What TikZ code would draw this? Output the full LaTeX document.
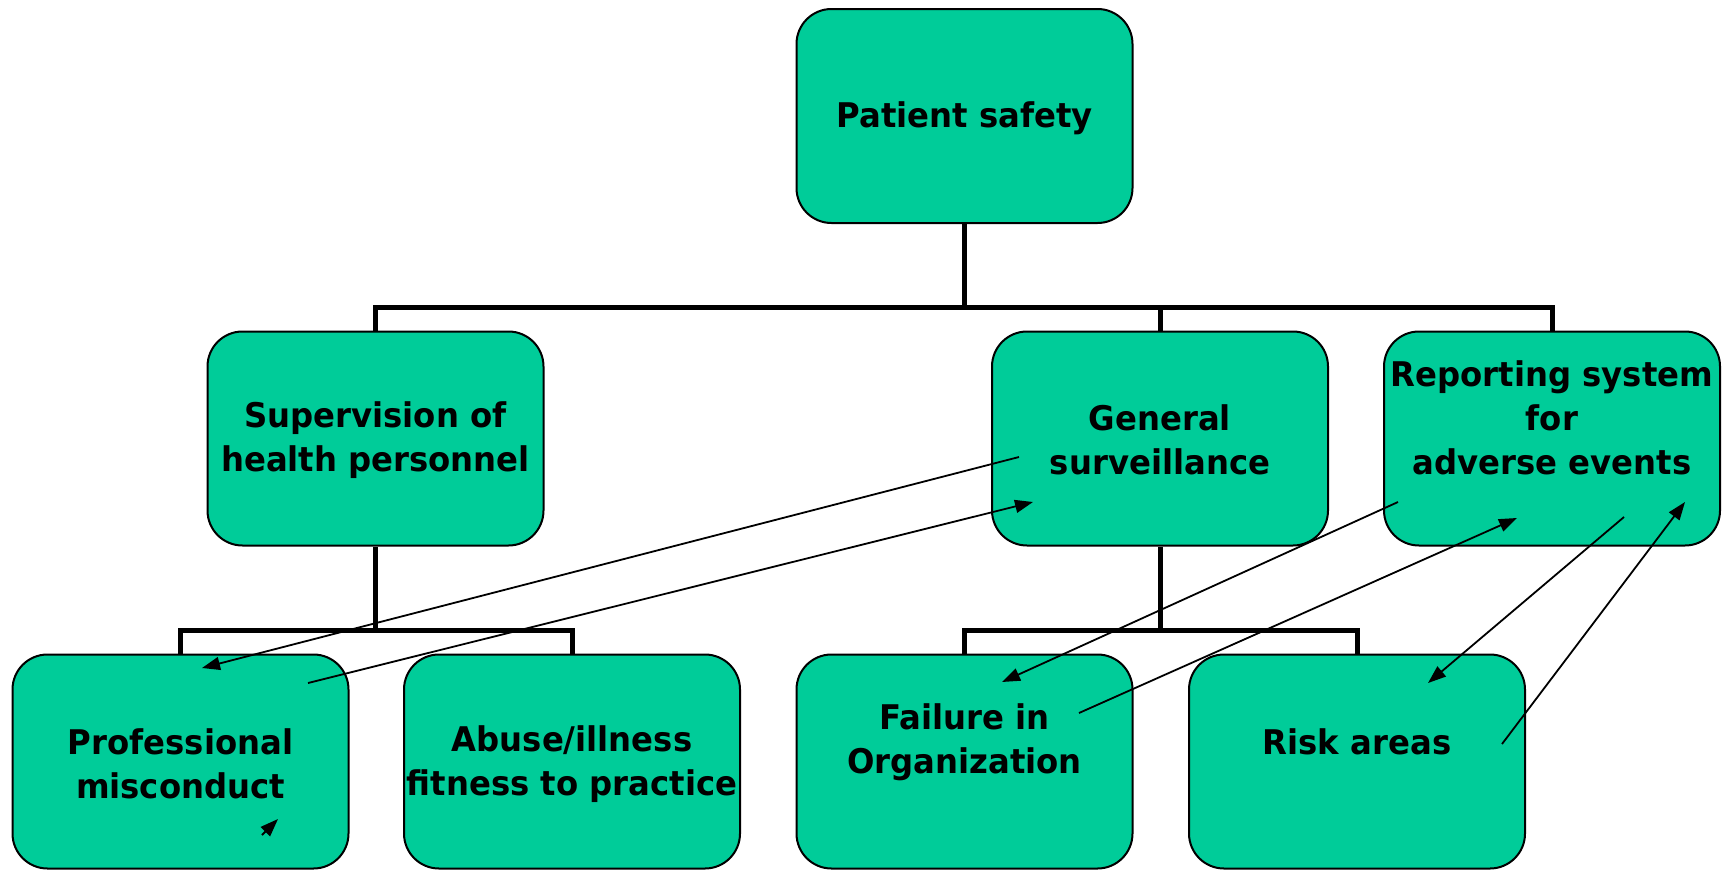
\documentclass[tikz,border=0pt]{standalone}
\usepackage{fontspec}
\newfontfamily\boxfont{DejaVu Sans}[FakeStretch=0.95]
\usetikzlibrary{arrows.meta}
\definecolor{boxgreen}{HTML}{00CC99}
\begin{document}
\begin{tikzpicture}[x=1pt,y=-1pt,
  box/.style={draw=black,line width=2pt,fill=boxgreen,rounded corners=35pt,
    minimum width=336pt,minimum height=214pt,inner sep=0pt},
  txt/.style={font=\boxfont\bfseries\fontsize{34}{44}\selectfont,align=center,inner sep=0pt},
  bar/.style={line width=5pt,draw=black},
  arr/.style={line width=1.8pt,-{Triangle[length=18pt,width=13pt]}}]
\useasboundingbox (0,0) rectangle (1731,870);
% boxes
\node[box] (ps)  at (964.5,116) {};
\node[box] (sup) at (375.5,438.5) {};
\node[box] (gen) at (1160,438.5) {};
\node[box] (rep) at (1552,438.5) {};
\node[box] (pro) at (180.5,761.5) {};
\node[box] (abu) at (572,761.5) {};
\node[box] (fai) at (964.5,761.5) {};
\node[box] (ris) at (1357,761.5) {};
% texts
\node[txt] (tps)  at (964.5,118) {Patient safety};
\node[txt] (tsup) at (375.5,440) {Supervision of\\health personnel};
\node[txt] (tgen) at (1160,440) {General\\surveillance};
\node[txt] (trep) at (1552,418) {Reporting system\\for\\adverse events};
\node[txt] (tpro) at (180.5,764) {Professional\\misconduct};
\node[txt] (tabu) at (572,764) {Abuse/illness\\fitness to practice};
\node[txt] (tfai) at (964.5,742) {Failure in\\Organization};
\node[txt] (tris) at (1357,742) {Risk areas};
% tree connectors
\coordinate (j1) at (964.5,307);
\coordinate (j2) at (375.5,630);
\coordinate (j3) at (1160,630);
\draw[bar] (ps.south) -- (j1);
\draw[bar] (sup.north) |- (j1) -| (rep.north);
\draw[bar] (gen.north) -- (gen.north |- j1);
\draw[bar] (sup.south) -- (j2);
\draw[bar] (pro.north) |- (j2) -| (abu.north);
\draw[bar] (gen.south) -- (j3);
\draw[bar] (fai.north) |- (j3) -| (ris.north);
% arrow end points
\coordinate (a1s) at (1019,457);
\coordinate (a1e) at (202,668);
\coordinate (a2s) at (308,683);
\coordinate (a2e) at (1033,502);
\coordinate (a3s) at (1398,502);
\coordinate (a3e) at (1002,682);
\coordinate (a4s) at (1079,713);
\coordinate (a4e) at (1517,518);
\coordinate (a5s) at (1624,517);
\coordinate (a5e) at (1428,683);
\coordinate (a6s) at (1502,744);
\coordinate (a6e) at (1685,502);
\coordinate (a7s) at (262,835);
\coordinate (a7e) at (278,819);
\draw[arr] (a1s) -- (a1e);
\draw[arr] (a2s) -- (a2e);
\draw[arr] (a3s) -- (a3e);
\draw[arr] (a4s) -- (a4e);
\draw[arr] (a5s) -- (a5e);
\draw[arr] (a6s) -- (a6e);
\draw[arr] (a7s) -- (a7e);
\end{tikzpicture}
\end{document}
